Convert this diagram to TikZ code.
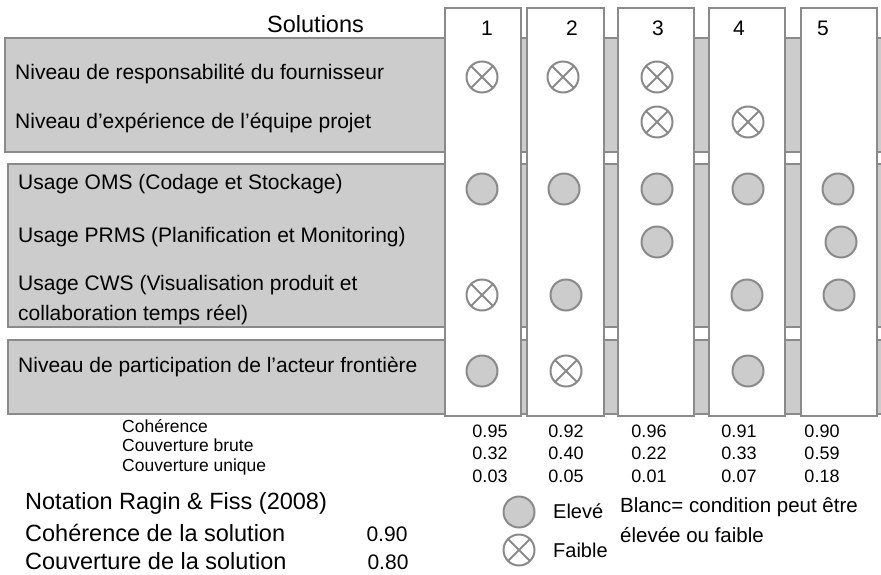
\documentclass[tikz,border=0pt]{standalone}
\usepackage{fontspec}
\setmainfont{Liberation Sans}
\usetikzlibrary{positioning}
\definecolor{bandgray}{RGB}{204,204,204}
\definecolor{linegray}{RGB}{138,138,138}
\begin{document}
\begin{tikzpicture}[x=1pt,y=-1pt,
band/.style = {draw=linegray, fill=bandgray, line width=2.2pt},
column/.style = {draw=linegray, fill=white, line width=2.5pt},
rowtext/.style = {anchor=base west, inner sep=0pt, font=\fontsize{21}{25}\selectfont},
bigtext/.style = {anchor=base west, inner sep=0pt, font=\fontsize{23.5}{28}\selectfont},
smalltext/.style = {anchor=base west, inner sep=0pt, font=\fontsize{17.5}{20}\selectfont},
value/.style = {anchor=base, inner sep=0pt, font=\fontsize{18}{20}\selectfont},
eleve/.style = {draw=linegray, fill=bandgray, circle, line width=2pt, minimum size=31pt, inner sep=0pt},
faible/.style = {draw=linegray, fill=white, circle, line width=2pt, minimum size=31pt, inner sep=0pt,
  path picture={\draw[linegray, line width=2pt] (path picture bounding box.north west)--(path picture bounding box.south east)
  (path picture bounding box.north east)--(path picture bounding box.south west);}},
]
\useasboundingbox (0,0) rectangle (881,574);
% bands of conditions
\draw[band] (5,38) rectangle (886,152);
\draw[band] (8,164) rectangle (886,327);
\draw[band] (8,340) rectangle (886,414);
% solution columns
\draw[column] (445,8) rectangle (521,416);
\draw[column] (527,8) rectangle (604,416);
\draw[column] (618,8) rectangle (694,416);
\draw[column] (709,8) rectangle (785,416);
\draw[column] (801,8) rectangle (877,416);
% headers
\node (sol) at (267,32)[bigtext] {Solutions};
\node (h1) at (487,35)[value,font=\fontsize{21}{25}\selectfont] {1};
\node (h2) at (572,35)[value,font=\fontsize{21}{25}\selectfont] {2};
\node (h3) at (658,35)[value,font=\fontsize{21}{25}\selectfont] {3};
\node (h4) at (739,35)[value,font=\fontsize{21}{25}\selectfont] {4};
\node (h5) at (823,35)[value,font=\fontsize{21}{25}\selectfont] {5};
% conditions
\node (resp) at (15,79)[rowtext] {Niveau de responsabilité du fournisseur};
\node (exp) at (15,128)[rowtext] {Niveau d’expérience de l’équipe projet};
\node (oms) at (18,189)[rowtext] {Usage OMS (Codage et Stockage)};
\node (prms) at (18,242)[rowtext] {Usage PRMS (Planification et Monitoring)};
\node (cwsa) at (18,290)[rowtext] {Usage CWS (Visualisation produit et};
\node (cwsb) at (18,320)[rowtext] {collaboration temps réel)};
\node (front) at (18,372)[rowtext] {Niveau de participation de l’acteur frontière};
% configurations
\node (r1c1) at (482,77)[faible] {};
\node (r1c2) at (563,77)[faible] {};
\node (r1c3) at (657,77)[faible] {};
\node (r2c3) at (657,122)[faible] {};
\node (r2c4) at (748,122)[faible] {};
\node (r3c1) at (482,189)[eleve] {};
\node (r3c2) at (564,189)[eleve] {};
\node (r3c3) at (657,189)[eleve] {};
\node (r3c4) at (748,189)[eleve] {};
\node (r3c5) at (838,189)[eleve] {};
\node (r4c3) at (657,242)[eleve] {};
\node (r4c5) at (841,242)[eleve] {};
\node (r5c1) at (482,295)[faible] {};
\node (r5c2) at (566,295)[eleve] {};
\node (r5c4) at (747,295)[eleve] {};
\node (r5c5) at (839,295)[eleve] {};
\node (r6c1) at (482,371)[eleve] {};
\node (r6c2) at (566,371)[faible] {};
\node (r6c4) at (748,371)[eleve] {};
% statistics
\node (coh) at (122,432)[smalltext] {Cohérence};
\node (cbr) at (122,451)[smalltext] {Couverture brute};
\node (cun) at (122,471)[smalltext] {Couverture unique};
\node (coh1) at (490,437)[value] {0.95};
\node (coh2) at (566,437)[value] {0.92};
\node (coh3) at (649,437)[value] {0.96};
\node (coh4) at (739,437)[value] {0.91};
\node (coh5) at (822,437)[value] {0.90};
\node (cbr1) at (490,459)[value] {0.32};
\node (cbr2) at (566,459)[value] {0.40};
\node (cbr3) at (649,459)[value] {0.22};
\node (cbr4) at (739,459)[value] {0.33};
\node (cbr5) at (822,459)[value] {0.59};
\node (cun1) at (490,482)[value] {0.03};
\node (cun2) at (566,482)[value] {0.05};
\node (cun3) at (649,482)[value] {0.01};
\node (cun4) at (739,482)[value] {0.07};
\node (cun5) at (822,482)[value] {0.18};
% solution
\node (nota) at (25,509)[bigtext] {Notation Ragin \& Fiss (2008)};
\node (csol) at (25,541)[bigtext] {Cohérence de la solution};
\node (vsol) at (25,569)[bigtext] {Couverture de la solution};
\node (csolv) at (387,541)[value,font=\fontsize{21}{25}\selectfont] {0.90};
\node (vsolv) at (388,569)[value,font=\fontsize{21}{25}\selectfont] {0.80};
% legend
\node (leg1) at (519,512)[eleve] {};
\node (leg2) at (519,550)[faible] {};
\node (leg1t) at (553,518)[rowtext,font=\fontsize{20}{24}\selectfont] {Elevé};
\node (leg2t) at (553,557)[rowtext,font=\fontsize{20}{24}\selectfont] {Faible};
\node (blanc) at (620,512)[rowtext,font=\fontsize{20.5}{24}\selectfont] {Blanc= condition peut être};
\node (blancb) at (620,542)[rowtext,font=\fontsize{20.5}{24}\selectfont] {élevée ou faible};
\end{tikzpicture}
\end{document}
